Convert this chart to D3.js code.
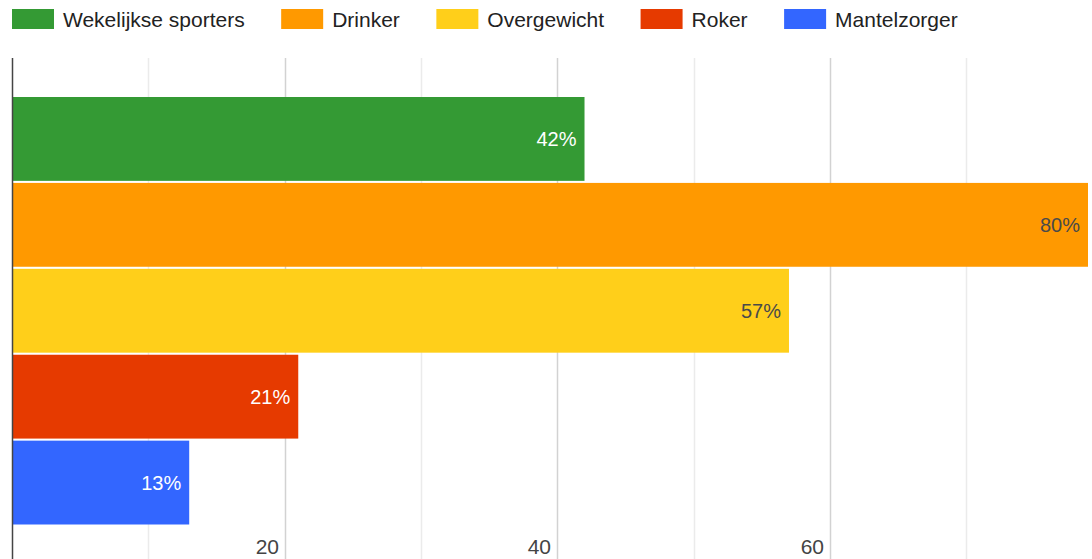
<!DOCTYPE html>
<html>
<head>
<meta charset="utf-8">
<script src="https://cdn.jsdelivr.net/npm/d3@7"></script>
<style>
  html, body { margin: 0; padding: 0; background: #fff; }
  svg { display: block; font-family: Arial, "Liberation Sans", sans-serif; }
</style>
</head>
<body>
<svg id="chart" width="1092" height="559"></svg>
<script>
// Share of respondents per group (percent)
const series = ["Wekelijkse sporters", "Drinker", "Overgewicht", "Roker", "Mantelzorger"];
const values = [42, 80, 57, 21, 13];
const colors = ["#349a34", "#ff9900", "#ffcf1a", "#e63a00", "#3366ff"];
const labelColors = ["#ffffff", "#4a4a4a", "#4a4a4a", "#ffffff", "#ffffff"];
const gridValues = [10, 20, 30, 40, 50, 60, 70];
const tickLabels = [20, 40, 60];

const W = 1092, H = 559;
const area = { left: 12, right: 1088, top: 58, bottom: 559 };

const svg = d3.select("#chart");

const x = d3.scaleLinear().domain([0, 80]).range([area.left, 1102.5]);
const y = d3.scaleBand().domain(series).range([97, 524.5]).paddingInner(0.024).paddingOuter(0);

svg.append("defs").append("clipPath").attr("id", "plotClip")
  .append("rect")
  .attr("x", area.left).attr("y", area.top)
  .attr("width", area.right - area.left).attr("height", area.bottom - area.top);

// gridlines: majors every 20, lighter minors in between
svg.append("g").selectAll("line").data(gridValues).join("line")
  .attr("x1", d => Math.round(x(d)) + 0.5).attr("x2", d => Math.round(x(d)) + 0.5)
  .attr("y1", area.top).attr("y2", area.bottom)
  .attr("stroke", d => d % 20 === 0 ? "#d2d2d2" : "#ebebeb")
  .attr("stroke-width", 1.5);

// bars
const plot = svg.append("g").attr("clip-path", "url(#plotClip)");
plot.selectAll("rect").data(series).join("rect")
  .attr("x", x(0))
  .attr("y", d => y(d))
  .attr("width", (d, i) => x(values[i]) - x(0))
  .attr("height", y.bandwidth())
  .attr("fill", (d, i) => colors[i]);

// value labels inside the bar ends
plot.selectAll("text").data(series).join("text")
  .attr("x", (d, i) => Math.min(x(values[i]), area.right) - 8)
  .attr("y", d => y(d) + y.bandwidth() / 2)
  .attr("dy", "0.36em")
  .attr("text-anchor", "end")
  .attr("font-size", 20)
  .attr("fill", (d, i) => labelColors[i])
  .text((d, i) => values[i] + "%");

// axis baseline
svg.append("line")
  .attr("x1", area.left + 0.5).attr("x2", area.left + 0.5)
  .attr("y1", area.top).attr("y2", area.bottom)
  .attr("stroke", "#444").attr("stroke-width", 1.5);

// tick labels, placed inside the plot just left of their gridline
svg.append("g").selectAll("text").data(tickLabels).join("text")
  .attr("x", d => Math.round(x(d)) - 6)
  .attr("y", 554)
  .attr("text-anchor", "end")
  .attr("font-size", 21)
  .attr("fill", "#444")
  .text(d => d);

// legend row
const legend = svg.append("g");
let lx = 12;
series.forEach((s, i) => {
  const g = legend.append("g");
  g.append("rect")
    .attr("x", lx).attr("y", 9).attr("width", 42).attr("height", 20)
    .attr("fill", colors[i]);
  const t = g.append("text")
    .attr("x", lx + 51).attr("y", 19)
    .attr("dy", "0.36em")
    .attr("font-size", 21)
    .attr("fill", "#222")
    .text(s);
  lx += 51 + t.node().getComputedTextLength() + 36.5;
});
</script>
</body>
</html>
